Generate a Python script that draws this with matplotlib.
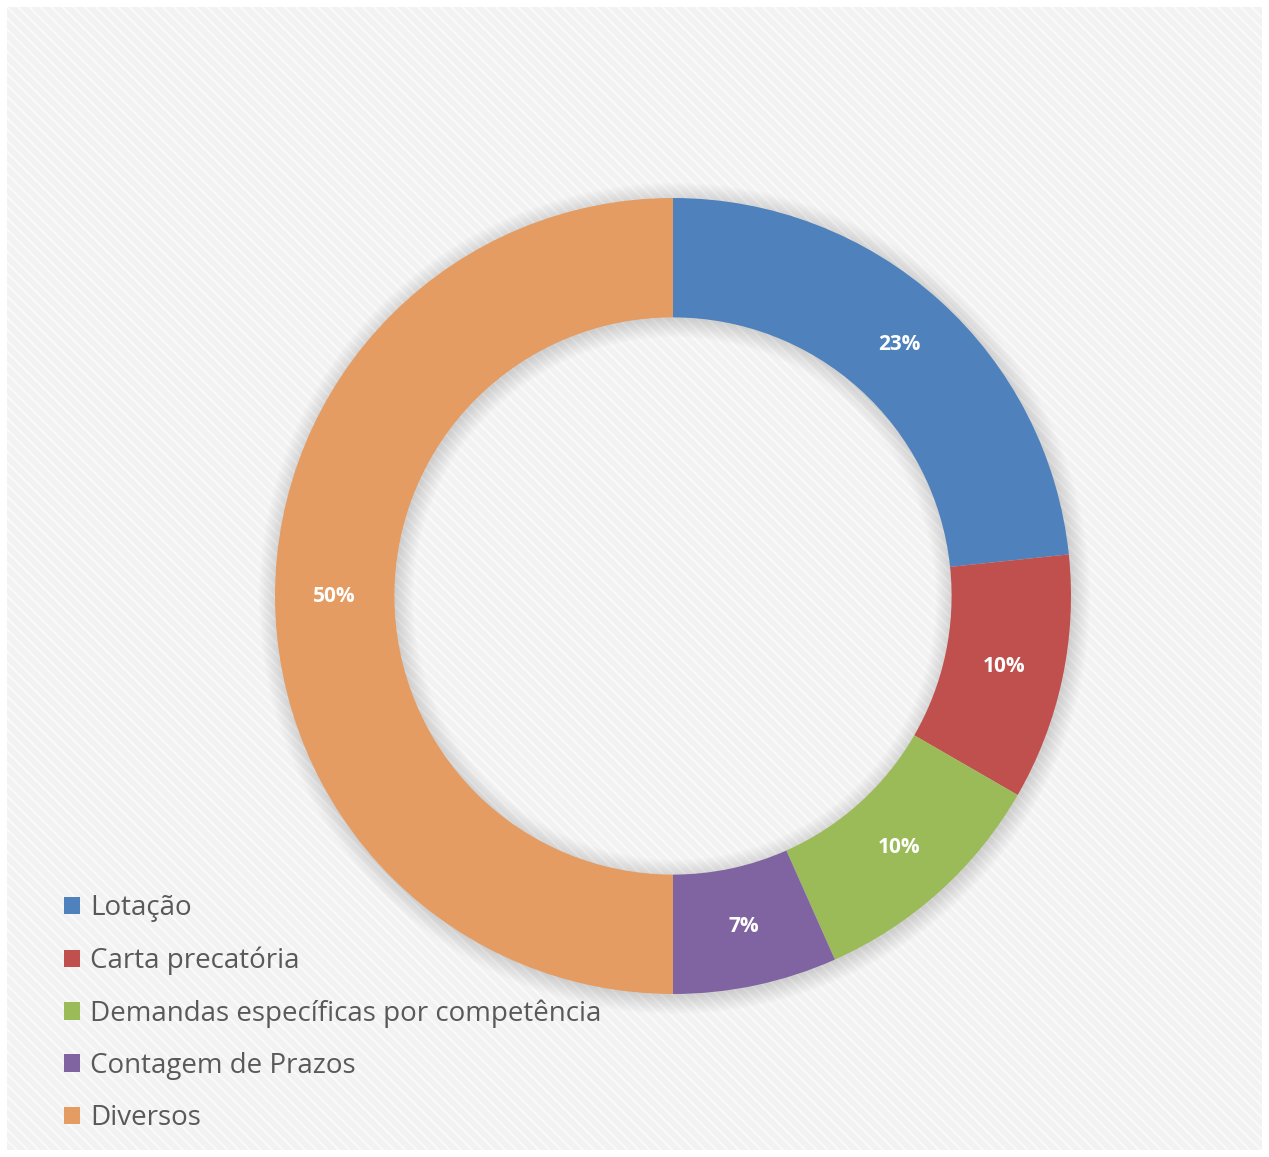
import numpy as np
import matplotlib.pyplot as plt
from matplotlib.patches import Rectangle, Wedge, Patch

categorias = ['Lotação', 'Carta precatória', 'Demandas específicas por competência',
              'Contagem de Prazos', 'Diversos']
valores = [7, 3, 3, 2, 15]
cores = ['#4f81bd', '#c0504d', '#9bbb59', '#8064a2', '#e59c62']

W, H = 1269, 1157
fig = plt.figure(figsize=(W / 100, H / 100), dpi=100)
fig.patch.set_facecolor('white')

# fundo listrado
plt.rcParams['hatch.linewidth'] = 1.5
axbg = fig.add_axes([0, 0, 1, 1], zorder=-5)
axbg.axis('off')
axbg.set_xlim(0, W)
axbg.set_ylim(0, H)
axbg.add_patch(Rectangle((7, 7), W - 14, H - 14, facecolor='#f2f2f2', edgecolor='#fafafa',
                         hatch='\\\\\\', linewidth=0))

cx, cy, r = 673, 596, 398
ax = fig.add_axes([(cx - r) / W, (H - cy - r) / H, 2 * r / W, 2 * r / H], zorder=1)
ax.axis('off')

# sombra suave
for k in range(12):
    d = k * 0.004
    ax.add_patch(Wedge((0.004, -0.006), 1.0 + d, 0, 360, width=0.3 + 2 * d,
                       facecolor='black', alpha=0.012, linewidth=0, zorder=1, clip_on=False))

wedges, _ = ax.pie(valores, colors=cores, startangle=90, counterclock=False, radius=1.0,
                   wedgeprops=dict(width=0.3, linewidth=0, zorder=2), normalize=True)
ax.set_xlim(-1, 1)
ax.set_ylim(-1, 1)
ax.set_aspect('equal')

total = sum(valores)
ang = 90.0
for v in valores:
    frac = v / total
    mid = np.deg2rad(ang - frac * 360 / 2)
    ang -= frac * 360
    ax.text(0.85 * np.cos(mid), 0.85 * np.sin(mid), '%d%%' % round(frac * 100),
            ha='center', va='center', color='white', fontsize=15, fontweight='bold',
            family='Open Sans', zorder=3)

handles = [Patch(facecolor=c, edgecolor='none') for c in cores]
fig.legend(handles, categorias, loc='lower left', bbox_to_anchor=(64 / W, 25 / H),
           frameon=False, labelcolor='#595959', prop={'family': 'Open Sans', 'size': 20},
           handlelength=0.58, handleheight=0.58, handletextpad=0.35, labelspacing=0.87,
           borderpad=0, borderaxespad=0)

fig.savefig('out.png', dpi=100)
